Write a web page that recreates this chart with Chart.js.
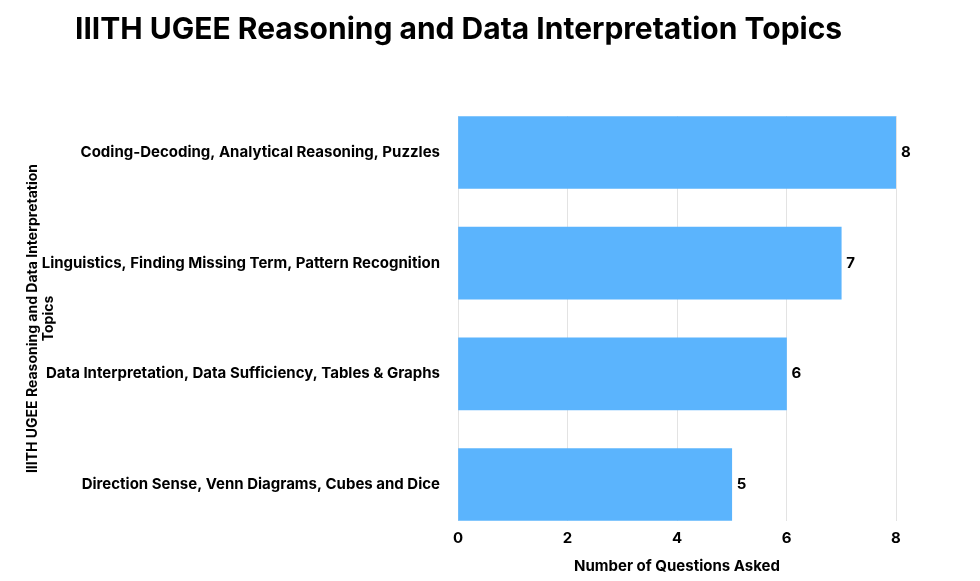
<!DOCTYPE html>
<html><head><meta charset="utf-8">
<script src="https://cdn.jsdelivr.net/npm/chart.js@4"></script>
<style>html,body{margin:0;padding:0;background:#fff}#w{width:980px;height:581px}</style>
</head><body><div id="w"><canvas id="c"></canvas></div>
<script>
const categories = ["Coding-Decoding, Analytical Reasoning, Puzzles","Linguistics, Finding Missing Term, Pattern Recognition","Data Interpretation, Data Sufficiency, Tables & Graphs","Direction Sense, Venn Diagrams, Cubes and Dice"];
const questions = [8,7,6,5];
const xTicks = [0,2,4,6,8];
const titleText = 'IIITH UGEE Reasoning and Data Interpretation Topics';
const F = "Inter";
const labelPlugin = {id:'lbl',afterDatasetsDraw(ch){const ctx=ch.ctx;const m=ch.getDatasetMeta(0);ctx.save();ctx.font="bold 15px "+F;ctx.fillStyle="#000";ctx.textBaseline="middle";m.data.forEach((b,i)=>{ctx.fillText(String(questions[i]),b.x+5,b.y);});
ctx.font="bold 30px "+F;ctx.textBaseline="middle";ctx.fillText(titleText,75,30);ctx.restore();}};
new Chart(document.getElementById('c'),{type:'bar',
data:{datasets:[{data:questions.map((v,i)=>({x:v,y:i})),backgroundColor:'#5bb4fd',barThickness:72}]},
options:{indexAxis:'y',responsive:true,maintainAspectRatio:false,animation:false,
layout:{padding:{left:20,right:84,top:0,bottom:6}},
plugins:{legend:{display:false},tooltip:{enabled:false},
title:{display:true,text:titleText,align:'start',color:'rgba(0,0,0,0)',font:{family:F,size:30,weight:'bold'},padding:{top:12,bottom:68}}},
scales:{
x:{type:'linear',min:0,max:8,afterBuildTicks(s){s.ticks=xTicks.map(v=>({value:v}));},grid:{color:'#e3e3e3',drawTicks:false},border:{display:false},ticks:{color:'#000',font:{family:F,size:15,weight:'bold'},padding:8},title:{display:true,text:'Number of Questions Asked',color:'#000',font:{family:F,size:15,weight:'bold'},padding:{top:2,bottom:0}}},
y:{type:'linear',offset:false,bounds:'data',reverse:true,min:-0.33,max:3.33,afterBuildTicks(s){s.ticks=[0,1,2,3].map(v=>({value:v}));},grid:{display:false},border:{display:false},ticks:{color:'#000',font:{family:F,size:15,weight:'bold'},padding:10,callback:v=>categories[v]},title:{display:true,text:['IIITH UGEE Reasoning and Data Interpretation','Topics'],color:'#000',font:{family:F,size:14,weight:'bold'},padding:{bottom:8}}}
}},plugins:[labelPlugin]});
</script></body></html>
